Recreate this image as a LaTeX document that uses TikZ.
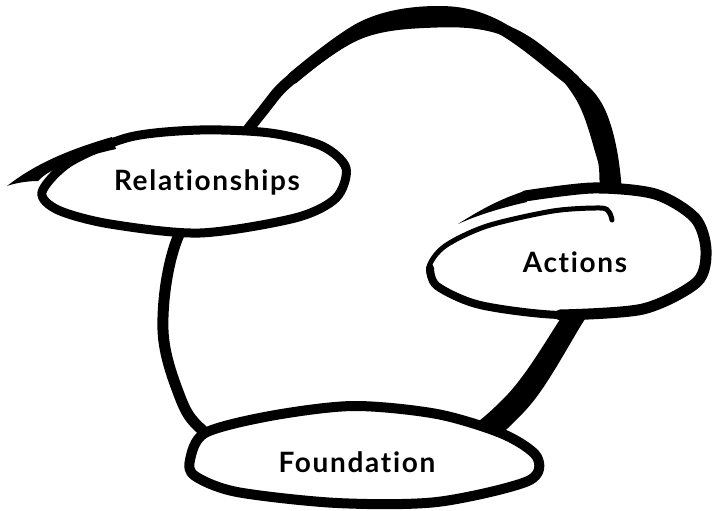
\documentclass[tikz,border=0pt]{standalone}
\usepackage{fontspec}
\newfontfamily\tagfont{Lato}[LetterSpace=6,Ligatures=NoCommon]
\usetikzlibrary{positioning}

\begin{document}
\begin{tikzpicture}[x=1pt,y=-1pt,
    brush/.style={line width=11pt,line cap=round,line join=round},
    blob/.style={fill=white,draw=black,line width=9pt,line join=round},
    tag/.style={font={\tagfont\bfseries\fontsize{28}{28}\selectfont},anchor=base}]
  \useasboundingbox (0,0) rectangle (716,511);

  % big loop, thin pass + two passes for the heavy right side
  \draw[brush] plot[smooth cycle,tension=0.6] coordinates {(215,175) (262,112) (293,78) (361,33) (437,22) (498,28) (545,55) (581,97) (600,149) (605,180) (602,255) (561,328) (507,403) (440,448) (330,462) (235,448) (200,428) (180,397) (163,330) (175,245)};
  \draw[brush] plot[smooth,tension=0.6] coordinates {(293,78) (363,30) (437,17) (497,27) (556,64) (592,106) (610,180) (607,258) (569,325) (518,400) (470,447)};
  \draw[brush,line width=12pt] plot[smooth,tension=0.6] coordinates {(293,78) (365,26) (437,12) (495,25) (559,71) (598,109) (615,180) (612,260) (576,322) (529,397) (480,445)};

  % Relationships
  \draw[blob] plot[smooth cycle] coordinates {(42,192) (70,162) (130,137) (200,130) (270,133) (322,146) (346,168) (336,198) (295,218) (200,233) (110,224) (58,210)};
  \fill (7,186) .. controls (30,168) and (60,152) .. (112,137) -- (116,149) .. controls (80,157) and (50,168) .. (38,181) .. controls (28,181) and (15,183) .. cycle; %tail
  \node[tag] (rel) at (207,190) {Relationships};

  % Actions
  \fill[white] plot[smooth cycle] coordinates {(462,222) (520,200) (593,188) (655,194) (695,218) (706,250) (697,282) (643,309) (560,315) (480,305) (437,286) (429,267) (445,248)};
  \draw[line width=5pt,line cap=round] plot[smooth] coordinates {(520,197) (593,188) (655,194) (695,218) (706,250) (697,282) (643,309) (560,315) (480,305) (437,286) (429,267) (445,246) (487,226) (553,211) (600,208) (609,212) (612,220)};
  \draw[line width=11pt,line cap=round] plot[smooth] coordinates {(525,196) (593,188) (655,194) (695,218) (706,250) (697,282) (643,309) (560,315)};
  \draw[line width=8pt,line cap=round] plot[smooth] coordinates {(643,309) (560,315) (480,305) (437,286) (430,268)};
  \fill (458,224) .. controls (480,210) and (500,199) .. (525,191) -- (527,202) .. controls (505,207) and (480,214) .. cycle; %tail
  \node[tag] (act) at (575,272) {Actions};

  % Foundation
  \draw[blob,line width=10pt] plot[smooth cycle] coordinates {(190,460) (205,433) (270,416) (353,406) (437,414) (503,434) (537,457) (528,481) (437,502) (337,503) (237,492) (195,476)};
  \node[tag] (fnd) at (357,472) {Foundation};
\end{tikzpicture}
\end{document}
